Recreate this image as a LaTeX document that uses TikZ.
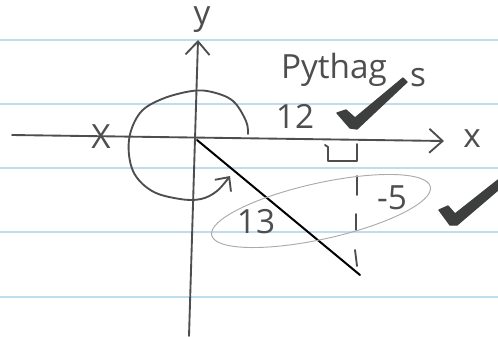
\documentclass[tikz,border=0pt]{standalone}
\usepackage{fontspec}
\setmainfont{Open Sans}
\usetikzlibrary{arrows.meta}
\definecolor{pencil}{HTML}{4E4E4E}
\definecolor{ink}{HTML}{3C3F3E}
\definecolor{rule}{HTML}{BFDDEC}
\definecolor{faint}{HTML}{ABABAB}
\begin{document}
\begin{tikzpicture}[x=0.75pt,y=-0.75pt,
  pencil/.style={draw=pencil, line width=1.4pt, line cap=round, line join=round},
  ruled/.style={draw=rule, line width=2.2pt},
  hand/.style={text=pencil, font=\fontsize{25}{25}\selectfont, inner sep=0pt},
  checkmark/.style={fill=ink, draw=ink, line width=1pt, line join=round},
  barb/.style={-{Straight Barb[length=10pt,width=18pt]}}]
\useasboundingbox (0,0) rectangle (498,336);
\fill[white] (0,0) rectangle (498,336);
\foreach \y in {40,104,168,232,297} \draw[ruled] (0,\y) -- (498,\y);
% coordinates
\coordinate (O) at (197,140);
\coordinate (xl) at (12,135);
\coordinate (xr) at (444,141);
\coordinate (yb) at (189,336);
\coordinate (yt) at (198,40);
\coordinate (P) at (360,275);
% axes
\draw[pencil, barb] (xl) -- (xr);
\draw[pencil, barb] (yb) -- (yt);
% rotation arc
\draw[pencil, -{Straight Barb[length=8pt,width=15pt]}] plot[smooth, tension=0.6] coordinates {(248,134) (246,121) (233,101) (212,92) (192,91) (162,99) (140,113) (129,140) (133,171) (152,191) (180,199) (201,199) (217,191) (230,176)};
% terminal side
\draw[black, line width=1.5pt, line cap=round] (O) -- (P);
% right angle marker
\draw[pencil] (325,145) -- (328,147) -- (328,161) -- (357,161) -- (357,144);
% dashed vertical
\draw[pencil] (357,176) -- (357,195);
\draw[pencil] (356,214) -- (356,230);
\draw[pencil] (355,250) -- (357,266);
% faint ellipse
\draw[faint, line width=0.7pt, rotate around={12.5:(321,211)}] (321,211) ellipse [x radius=112, y radius=28];
% labels
\node[hand] (ylab) at (202,20) {y};
\node[hand] (xlab) at (472,139) {x};
\node[hand] (cross) at (101,137) {X};
\node[hand] (twelve) at (295,116) {12};
\node[hand] (pyth) at (334,70) {Pythag};
\node[hand] (s) at (418,78) {s};
\node[hand] (m5) at (392,198) {-5};
\node[hand] (thirteen) at (256,222) {13};
% check marks
\fill[checkmark] (337,113) -- (346,110) -- (355,118) -- (403,78) -- (407,82) -- (357,129) -- (350,128) -- cycle;
\fill[checkmark] (439,210) -- (448,206) -- (455,214) -- (498,180) -- (498,190) -- (457,225) -- (450,225) -- cycle;
\end{tikzpicture}
\end{document}
